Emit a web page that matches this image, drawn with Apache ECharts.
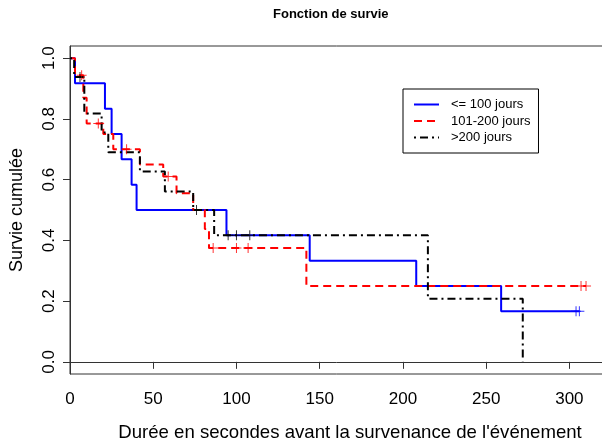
<!DOCTYPE html>
<html>
<head>
<meta charset="utf-8">
<script src="https://cdn.jsdelivr.net/npm/echarts@6/dist/echarts.min.js"></script>
<style>
html,body{margin:0;padding:0;background:#fff;}
#main{width:602px;height:439px;}
</style>
</head>
<body>
<div id="main"></div>
<script>
// ---- Data ----
const groupNames = ['<= 100 jours', '101-200 jours', '>200 jours'];

const blueTimes = [0, 3, 21, 25, 31, 37, 40, 94, 144, 208, 259];
const blueSurv  = [1, 0.917, 0.833, 0.75, 0.667, 0.583, 0.5, 0.417, 0.333, 0.25, 0.167];
const blueCens  = [304, 306];

const redTimes = [0, 3, 8, 10, 20, 26, 42, 56, 64, 74, 81, 83.5, 142];
const redSurv  = [1, 0.944, 0.87, 0.785, 0.75, 0.70, 0.65, 0.61, 0.555, 0.5, 0.4375, 0.375, 0.25];
const redCens  = [7, 17, 34, 59, 86, 100, 107, 307, 310];

const blackTimes = [0, 2.5, 8.6, 19, 23, 42, 57, 74, 86.6, 215, 272];
const blackSurv  = [1, 0.938, 0.818, 0.755, 0.69, 0.627, 0.561, 0.5, 0.417, 0.208, 0];
const blackCens  = [6, 76, 95, 100, 108];

const xTicks = [0, 50, 100, 150, 200, 250, 300];
const yTicks = [0, 0.2, 0.4, 0.6, 0.8, 1.0];

// ---- Helpers ----
function survAt(times, surv, t) {
  let v = surv[0];
  for (let i = 0; i < times.length; i++) { if (times[i] <= t) v = surv[i]; }
  return v;
}
function curve(times, surv, cens) {
  const pts = times.map((t, i) => [t, surv[i]]);
  const lastC = cens.length ? Math.max(...cens) : -1;
  if (lastC > times[times.length - 1]) pts.push([lastC, surv[surv.length - 1]]);
  return pts;
}
function censPts(times, surv, cens) {
  return cens.map(t => [t, survAt(times, surv, t)]);
}

const FONT = 'Liberation Sans, Arial, Helvetica, sans-serif';
const plus = 'path://M4.5,0h1v10h-1zM0,4.5h10v1h-10z';

const groups = [
  {name: groupNames[0], times: blueTimes, surv: blueSurv, cens: blueCens, color: '#0000FF', type: 'solid', w: 2},
  {name: groupNames[1], times: redTimes, surv: redSurv, cens: redCens, color: '#FF0000', type: [8, 5], w: 2},
  {name: groupNames[2], times: blackTimes, surv: blackSurv, cens: blackCens, color: '#000000', type: [2, 4, 8, 4], w: 2}
];

const series = [];
groups.forEach(g => {
  series.push({
    name: g.name, type: 'line', step: 'end', symbol: 'none',
    data: curve(g.times, g.surv, g.cens),
    lineStyle: {color: g.color, width: g.w, type: g.type},
    itemStyle: {color: g.color},
    z: 2
  });
});
groups.forEach(g => {
  series.push({
    name: g.name + ' censure', type: 'scatter', symbol: plus, symbolSize: 10,
    data: censPts(g.times, g.surv, g.cens),
    itemStyle: {color: g.color},
    z: 3
  });
});

const chart = echarts.init(document.getElementById('main'), null, {renderer: 'canvas'});
chart.setOption({
  animation: false,
  backgroundColor: '#fff',
  title: {
    text: 'Fonction de survie', left: 268, top: 3,
    textStyle: {fontFamily: FONT, fontSize: 13, fontWeight: 'bold', color: '#000'}
  },
  legend: {
    data: groupNames.map(n => ({name: n})),
    orient: 'vertical', left: 403, top: 89,
    itemWidth: 25, itemHeight: 14, itemGap: 3.5,
    padding: [9, 8, 9, 10],
    borderColor: '#000', borderWidth: 1, backgroundColor: '#fff',
    itemStyle: {opacity: 0},
    textStyle: {fontFamily: FONT, fontSize: 13, color: '#000', padding: [0, 0, 0, 7]}
  },
  grid: {left: 70, right: -4, top: 46, bottom: 65, show: true, borderColor: '#333', borderWidth: 1,
         containLabel: false, outerBoundsMode: 'none'},
  xAxis: {
    type: 'value', min: 0, max: 322, interval: 50,
    axisLine: {show: true, lineStyle: {color: '#333', width: 1}},
    axisTick: {show: true, length: 7, lineStyle: {color: '#333'}, customValues: xTicks},
    axisLabel: {customValues: xTicks, fontFamily: FONT, fontSize: 17, color: '#000', margin: 17},
    splitLine: {show: false},
    name: "Durée en secondes avant la survenance de l'événement",
    nameLocation: 'middle', nameGap: 49,
    nameTextStyle: {fontFamily: FONT, fontSize: 18.6, color: '#000', padding: [0, 0, 0, 24]}
  },
  yAxis: {
    type: 'value', min: -0.04, max: 1.04,
    axisLine: {show: true, lineStyle: {color: '#333', width: 1}},
    axisTick: {show: true, length: 7, lineStyle: {color: '#333'}, customValues: yTicks},
    axisLabel: {customValues: yTicks, rotate: 90, formatter: v => v.toFixed(1), fontFamily: FONT, fontSize: 17, color: '#000', margin: 12},
    splitLine: {show: false},
    name: 'Survie cumulée', nameLocation: 'middle', nameGap: 44,
    nameTextStyle: {fontFamily: FONT, fontSize: 18, color: '#000'}
  },
  series: series
});
</script>
</body>
</html>
